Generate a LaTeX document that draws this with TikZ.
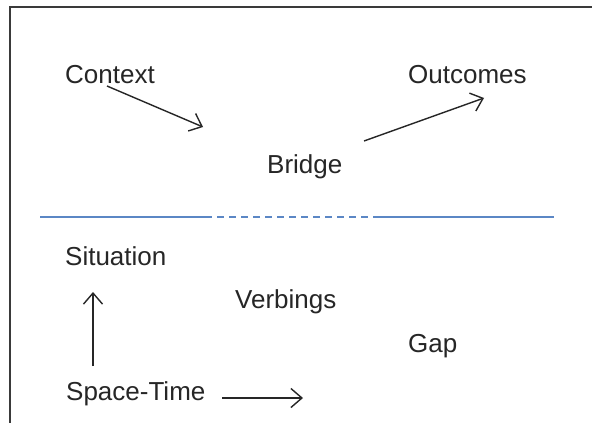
\documentclass[tikz,border=0pt]{standalone}
\usepackage{fontspec}
\setmainfont{Liberation Sans}
\usetikzlibrary{arrows.meta}
\definecolor{inkgray}{HTML}{262626}
\definecolor{rulegray}{HTML}{3A3A3A}
\definecolor{divblue}{HTML}{5B87C5}
\begin{document}
\begin{tikzpicture}[x=1pt,y=-1pt,
  label/.style={anchor=base west,inner sep=0pt,font=\fontsize{26}{30}\selectfont,text=inkgray},
  arr/.style={draw=inkgray,line width=1.4pt,-{Straight Barb[length=11pt,width=19pt,line width=1.4pt]}},
  divider/.style={draw=divblue,line width=1.5pt}]
\useasboundingbox (0,0) rectangle (592,423);
\fill[white] (0,0) rectangle (592,423);
% open frame: top edge and left edge
\draw[rulegray,line width=1.5pt] (10,423) -- (10,7) -- (592,7);
% labels
\node[label] (context) at (65,83) {Context};
\node[label] (outcomes) at (408,83) {Outcomes};
\node[label] (bridge) at (267,173) {Bridge};
\node[label] (situation) at (65,265) {Situation};
\node[label] (verbings) at (235,308) {Verbings};
\node[label] (gap) at (408,352) {Gap};
\node[label] (spacetime) at (66,400) {Space-Time};
% arrow ends
\coordinate (c1) at (107,86);
\coordinate (c2) at (203,127);
\coordinate (o1) at (364,141);
\coordinate (o2) at (484,98);
\coordinate (s1) at (93,366);
\coordinate (s2) at (93,292);
\coordinate (t1) at (222,398);
\coordinate (t2) at (303,398);
\draw[arr] (c1) -- (c2);
\draw[arr] (o1) -- (o2);
\draw[arr] (s1) -- (s2);
\draw[arr] (t1) -- (t2);
% divider: solid, dashed middle, solid
\coordinate (d0) at (40,217);
\coordinate (d1) at (205,217);
\coordinate (d2) at (377,217);
\coordinate (d3) at (554,217);
\draw[divider] (d0) -- (d1);
\draw[divider,dash pattern=on 7pt off 5pt] (d1) -- (d2);
\draw[divider] (d2) -- (d3);
\end{tikzpicture}
\end{document}
